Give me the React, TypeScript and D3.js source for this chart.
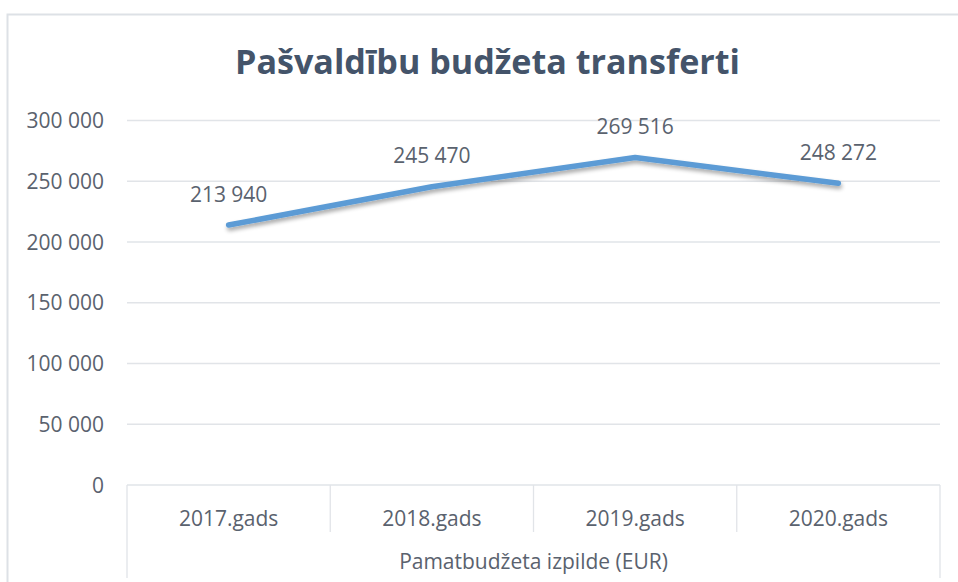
import React from "react";
import * as d3 from "d3";

const categories = ["2017.gads", "2018.gads", "2019.gads", "2020.gads"];
const values = [213940, 245470, 269516, 248272];
const yTicks = [0, 50000, 100000, 150000, 200000, 250000, 300000];
const title = "Pašvaldību budžeta transferti";
const groupLabel = "Pamatbudžeta izpilde (EUR)";

const W = 958;
const H = 582;
const plotLeft = 127;
const plotRight = 940;
const plotTop = 120.5;
const plotBottom = 485;

const FONT = "'Open Sans', 'Noto Sans', sans-serif";
const TEXT = "#5a626e";
const GRID = "#e1e4e8";
const FS = 21;

function fmt(v: number): string {
  return d3.format(",")(v).replace(/,/g, " ");
}

export default function App() {
  const x = d3.scaleBand<string>().domain(categories).range([plotLeft, plotRight]).padding(0);
  const y = d3.scaleLinear().domain([0, 300000]).range([plotBottom, plotTop]);
  const cx = (c: string) => (x(c) as number) + x.bandwidth() / 2;
  const line = d3
    .line<number>()
    .x((_, i) => cx(categories[i]))
    .y((d) => y(d));
  const path = line(values) as string;

  return (
    <svg width={W} height={H} style={{ position: "absolute", left: 0, top: 0, background: "#fff" }}>
      <defs>
        <filter id="shadow" x="-10%" y="-50%" width="120%" height="200%">
          <feGaussianBlur in="SourceAlpha" stdDeviation="2" />
          <feOffset dx="1" dy="3" result="ob" />
          <feComponentTransfer>
            <feFuncA type="linear" slope="0.35" />
          </feComponentTransfer>
          <feMerge>
            <feMergeNode />
            <feMergeNode in="SourceGraphic" />
          </feMerge>
        </filter>
      </defs>
      <rect x={0} y={0} width={W} height={H} fill="#fff" />
      <rect x={7.5} y={14.5} width={1200} height={1200} fill="none" stroke="#dde1e6" strokeWidth={2} />

      <text
        x={487.5}
        y={74}
        textAnchor="middle"
        fontFamily={FONT}
        fontWeight={700}
        fontSize={34}
        fill="#44546a"
        textLength={505}
        lengthAdjust="spacingAndGlyphs"
      >
        {title}
      </text>

      {yTicks.map((t) => (
        <g key={t}>
          {t > 0 && (
            <line x1={plotLeft} x2={plotRight} y1={y(t)} y2={y(t)} stroke={GRID} strokeWidth={1.3} />
          )}
          <text x={104} y={y(t)} dy={7.5} textAnchor="end" fontFamily={FONT} fontSize={FS} fill={TEXT}>
            {fmt(t)}
          </text>
        </g>
      ))}

      {/* category axis box */}
      <line x1={plotLeft} x2={plotRight} y1={plotBottom} y2={plotBottom} stroke={GRID} strokeWidth={1.3} />
      {categories.map((c, i) => (
        <line
          key={"d" + c}
          x1={x(c) as number}
          x2={x(c) as number}
          y1={plotBottom}
          y2={i === 0 ? 578 : 532}
          stroke={GRID}
          strokeWidth={1.3}
        />
      ))}
      <line x1={plotRight} x2={plotRight} y1={plotBottom} y2={578} stroke={GRID} strokeWidth={1.3} />
      {categories.map((c) => (
        <text key={"c" + c} x={cx(c)} y={518} dy={7.5} textAnchor="middle" fontFamily={FONT} fontSize={FS} fill={TEXT}>
          {c}
        </text>
      ))}
      <text x={(plotLeft + plotRight) / 2} y={561} dy={7.5} textAnchor="middle" fontFamily={FONT} fontSize={FS} fill={TEXT}>
        {groupLabel}
      </text>

      <path
        d={path}
        fill="none"
        stroke="#5b9bd5"
        strokeWidth={5.5}
        strokeLinecap="round"
        strokeLinejoin="round"
        filter="url(#shadow)"
      />

      {values.map((v, i) => (
        <text
          key={"v" + i}
          x={cx(categories[i])}
          y={y(v) - 31}
          dy={7.5}
          textAnchor="middle"
          fontFamily={FONT}
          fontSize={FS}
          fill={TEXT}
        >
          {fmt(v)}
        </text>
      ))}
    </svg>
  );
}
